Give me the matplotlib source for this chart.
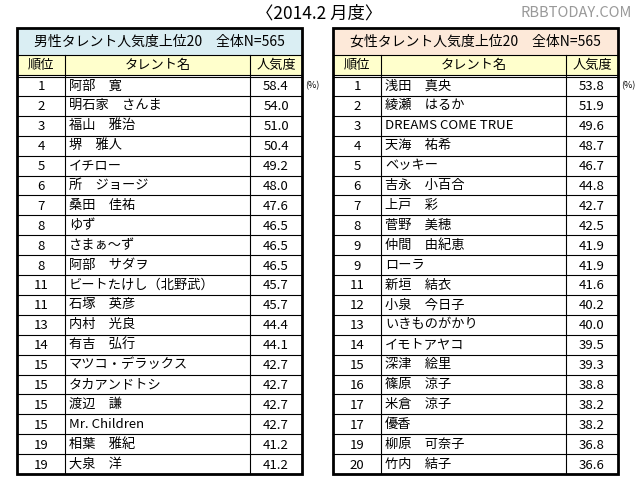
import matplotlib
matplotlib.use("Agg")
import matplotlib.pyplot as plt
from matplotlib.patches import Rectangle

plt.rcParams['font.family'] = ['Noto Sans CJK JP', 'DejaVu Sans']

male_title = "男性タレント人気度上位20　全体N=565"
female_title = "女性タレント人気度上位20　全体N=565"
headers = ["順位", "タレント名", "人気度"]
male_rank = [1, 2, 3, 4, 5, 6, 7, 8, 8, 8, 11, 11, 13, 14, 15, 15, 15, 15, 19, 19]
male_name = ["阿部　寛", "明石家　さんま", "福山　雅治", "堺　雅人", "イチロー", "所　ジョージ",
             "桑田　佳祐", "ゆず", "さまぁ～ず", "阿部　サダヲ", "ビートたけし（北野武）", "石塚　英彦",
             "内村　光良", "有吉　弘行", "マツコ・デラックス", "タカアンドトシ", "渡辺　謙",
             "Mr. Children", "相葉　雅紀", "大泉　洋"]
male_value = [58.4, 54.0, 51.0, 50.4, 49.2, 48.0, 47.6, 46.5, 46.5, 46.5, 45.7, 45.7,
              44.4, 44.1, 42.7, 42.7, 42.7, 42.7, 41.2, 41.2]
female_rank = [1, 2, 3, 4, 5, 6, 7, 8, 9, 9, 11, 12, 13, 14, 15, 16, 17, 17, 19, 20]
female_name = ["浅田　真央", "綾瀬　はるか", "DREAMS COME TRUE", "天海　祐希", "ベッキー",
               "吉永　小百合", "上戸　彩", "菅野　美穂", "仲間　由紀恵", "ローラ", "新垣　結衣",
               "小泉　今日子", "いきものがかり", "イモトアヤコ", "深津　絵里", "篠原　涼子",
               "米倉　涼子", "優香", "柳原　可奈子", "竹内　結子"]
female_value = [53.8, 51.9, 49.6, 48.7, 46.7, 44.8, 42.7, 42.5, 41.9, 41.9, 41.6, 40.2,
                40.0, 39.5, 39.3, 38.8, 38.2, 38.2, 36.8, 36.6]

W, H = 638, 484
fig = plt.figure(figsize=(W / 100, H / 100), dpi=100)
ax = fig.add_axes([0, 0, 1, 1])
ax.set_xlim(0, W)
ax.set_ylim(H, 0)
ax.axis('off')

fig.text(0.5, 1 - 13 / H, "〈2014.2 月度〉", ha='center', va='center', fontsize=12.5)
ax.text(632, 13, "RBBTODAY.COM", ha='right', va='center', fontsize=10.5, color='#999999')

FS = 9.5


def table(x0, title, title_bg, ranks, names, values):
    c = [x0, x0 + 48, x0 + 233, x0 + 285]
    yt, yh, yd = 28, 55, 76
    rh = 19.9
    n = len(ranks)
    yb = yd + n * rh
    ax.add_patch(Rectangle((c[0], yt), c[3] - c[0], yh - yt, fc=title_bg, ec='none'))
    ax.add_patch(Rectangle((c[0], yh), c[3] - c[0], yd - yh, fc='#ffffcc', ec='none'))
    ax.text((c[0] + c[3]) / 2, (yt + yh) / 2, title, ha='center', va='center', fontsize=10)
    centers = [(c[0] + c[1]) / 2, (c[1] + c[2]) / 2, (c[2] + c[3]) / 2]
    for cx, h in zip(centers, headers):
        ax.text(cx, (yh + yd) / 2, h, ha='center', va='center', fontsize=FS)
    for i, (r, nm, v) in enumerate(zip(ranks, names, values)):
        y = yd + (i + 0.5) * rh
        ax.text(centers[0], y + 1, str(r), ha='center', va='center', fontsize=FS)
        ax.text(c[1] + 4, y, nm, ha='left', va='center', fontsize=FS)
        ax.text(centers[2], y + 1, f"{v:.1f}", ha='center', va='center', fontsize=FS)
        ax.plot([c[0], c[3]], [yd + (i + 1) * rh] * 2, color='black', lw=0.8)
    ax.plot([c[0], c[3]], [yh, yh], color='black', lw=0.8)
    ax.plot([c[0], c[3]], [yd - 1.5, yd - 1.5], color='black', lw=0.8)
    ax.plot([c[0], c[3]], [yd + 0.5, yd + 0.5], color='black', lw=0.8)
    for xx in (c[1], c[2]):
        ax.plot([xx, xx], [yh, yb], color='black', lw=0.8)
    ax.add_patch(Rectangle((c[0], yt), c[3] - c[0], yb - yt, fc='none', ec='black', lw=2))
    ax.text(c[3] + 3, yd + 0.5 * rh, "(%)", ha='left', va='center', fontsize=6.5)


table(17, male_title, '#daeef3', male_rank, male_name, male_value)
table(333, female_title, '#fde9d9', female_rank, female_name, female_value)

fig.savefig("out.png", dpi=100)
